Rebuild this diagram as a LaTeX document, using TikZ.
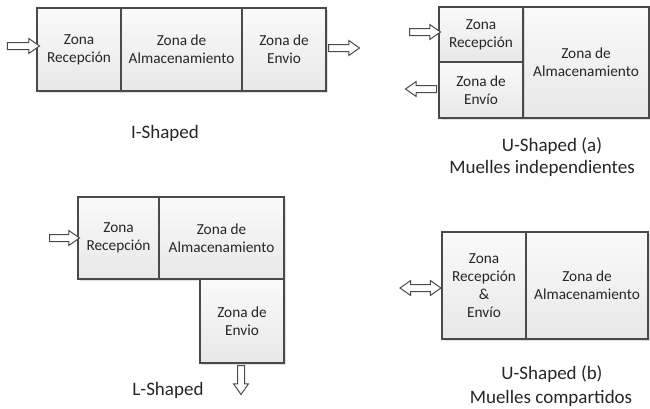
\documentclass[tikz,border=0pt]{standalone}
\usepackage{fontspec}
\setmainfont{Carlito}
\usetikzlibrary{shapes.arrows,shadows}
\definecolor{edge}{HTML}{4A4A4A}
\definecolor{txt}{HTML}{262626}
\tikzset{
  zone/.style={draw=edge, line width=1.2pt, top color=gray!4, bottom color=gray!18,
    inner sep=0pt, outer sep=0pt, align=center, text=txt,
    font=\fontsize{15.3}{18}\selectfont,
    drop shadow={opacity=0.25, shadow xshift=1.5pt, shadow yshift=-1.5pt}},
  blockarrow/.style={single arrow, draw=edge, fill=white, line width=1pt,
    inner sep=3pt, single arrow head extend=4pt, single arrow tip angle=70,
    minimum height=#1, outer sep=0pt},
  dblarrow/.style={double arrow, draw=edge, fill=white, line width=1pt,
    inner sep=3pt, double arrow head extend=4pt, double arrow tip angle=70,
    minimum height=#1, outer sep=0pt},
  caption/.style={text=txt, font=\fontsize{19}{22}\selectfont, inner sep=0pt}
}
\begin{document}
\begin{tikzpicture}[x=1pt,y=-1pt]
\useasboundingbox (0,0) rectangle (650,408);
% I-shaped
\node[zone, minimum width=84pt, minimum height=83pt] (iR) at (79,49.5) {Zona\\Recepción};
\node[zone, minimum width=121pt, minimum height=83pt] (iA) at (181.5,49.5) {Zona de\\Almacenamiento};
\node[zone, minimum width=84pt, minimum height=83pt] (iE) at (284,49.5) {Zona de\\Envio};
\node[blockarrow=32pt] (iIn) at (21,46) {};
\node[blockarrow=31pt] (iOut) at (341.5,48) {};
\node[caption] (iCap) at (165,133) {I-Shaped};
% U-shaped (a)
\node[zone, minimum width=126pt, minimum height=111pt] (uaA) at (586,62.5) {Zona de\\Almacenamiento};
\node[zone, minimum width=84pt, minimum height=55pt] (uaR) at (481,34.5) {Zona\\Recepción};
\node[zone, minimum width=84pt, minimum height=56pt] (uaE) at (481,90) {Zona de\\Envío};
\node[blockarrow=31pt] (uaIn) at (422.5,32) {};
\node[blockarrow=31pt, rotate=180] (uaOut) at (423.5,89) {};
\node[caption] (uaCap1) at (552,146) {U-Shaped (a)};
\node[caption] (uaCap2) at (542,168) {Muelles independientes};
% L-shaped
\node[zone, minimum width=81pt, minimum height=82pt] (lR) at (118.5,238) {Zona\\Recepción};
\node[zone, minimum width=125pt, minimum height=82pt] (lA) at (221.5,238) {Zona de\\Almacenamiento};
\node[zone, minimum width=84pt, minimum height=84pt] (lE) at (242,321) {Zona de\\Envio};
\node[blockarrow=30pt] (lIn) at (62,238) {};
\node[blockarrow=29pt, rotate=-90] (lOut) at (241,377.5) {};
\node[caption] (lCap) at (168,390) {L-Shaped};
% U-shaped (b)
\node[zone, minimum width=84pt, minimum height=107pt] (ubRE) at (484,285.5) {Zona\\Recepción\\\&\\Envío};
\node[zone, minimum width=122pt, minimum height=107pt] (ubA) at (587,285.5) {Zona de\\Almacenamiento};
\node[dblarrow=41pt] (ubIO) at (420.5,288) {};
\node[caption] (ubCap1) at (552,374) {U-Shaped (b)};
\node[caption] (ubCap2) at (551,398) {Muelles compartidos};
\end{tikzpicture}
\end{document}
